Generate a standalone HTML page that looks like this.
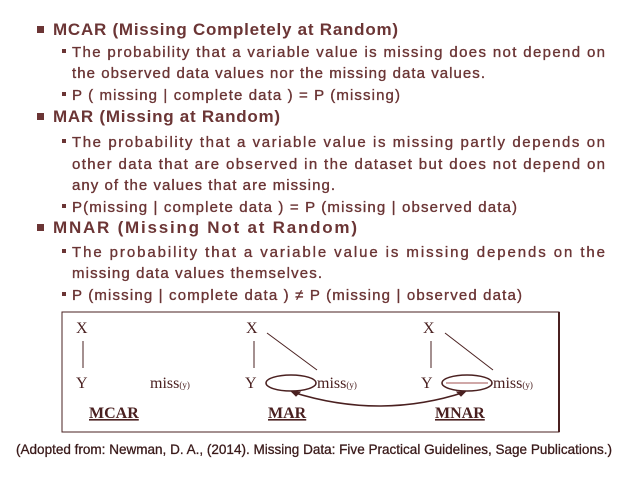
<!DOCTYPE html>
<html><head><meta charset="utf-8"><style>
html,body{margin:0;padding:0;background:#fff;}
svg{display:block;}
.h{font-family:"Liberation Sans",sans-serif;font-size:17px;fill:#6b3535;font-weight:bold;}
.s{font-family:"Liberation Sans",sans-serif;font-size:15px;fill:#6b3535;stroke:#6b3535;stroke-width:0.35;}
.d{font-family:"Liberation Serif",serif;font-size:16px;fill:#4a2020;}
</style></head><body>
<svg width="638" height="479" viewBox="0 0 638 479">
<g>
<rect x="37" y="26" width="7" height="7" fill="#6b3535"/>
<text class="h" x="53" y="35" textLength="345" lengthAdjust="spacing">MCAR (Missing Completely at Random)</text>
<rect x="62" y="49" width="4" height="4" fill="#6b3535"/>
<text class="s" x="72" y="57" textLength="533" lengthAdjust="spacing">The probability that a variable value is missing does not depend on</text>
<text class="s" x="72" y="78" textLength="413" lengthAdjust="spacing">the observed data values nor the missing data values.</text>
<rect x="62" y="92" width="4" height="4" fill="#6b3535"/>
<text class="s" x="72" y="100" textLength="328" lengthAdjust="spacing">P ( missing | complete data ) = P (missing)</text>

<rect x="37" y="113" width="7" height="7" fill="#6b3535"/>
<text class="h" x="53" y="122" textLength="227" lengthAdjust="spacing">MAR (Missing at Random)</text>
<rect x="62" y="139" width="4" height="4" fill="#6b3535"/>
<text class="s" x="72" y="147" textLength="533" lengthAdjust="spacing">The probability that a variable value is missing partly depends on</text>
<text class="s" x="72" y="169" textLength="533" lengthAdjust="spacing">other data that are observed in the dataset but does not depend on</text>
<text class="s" x="72" y="190" textLength="263" lengthAdjust="spacing">any of the values that are missing.</text>
<rect x="62" y="204" width="4" height="4" fill="#6b3535"/>
<text class="s" x="72" y="212" textLength="445" lengthAdjust="spacing">P(missing | complete data ) = P (missing | observed data)</text>

<rect x="37" y="224" width="7" height="7" fill="#6b3535"/>
<text class="h" x="53" y="233" textLength="304" lengthAdjust="spacing">MNAR (Missing Not at Random)</text>
<rect x="62" y="249" width="4" height="4" fill="#6b3535"/>
<text class="s" x="72" y="257" textLength="533" lengthAdjust="spacing">The probability that a variable value is missing depends on the</text>
<text class="s" x="72" y="278" textLength="250" lengthAdjust="spacing">missing data values themselves.</text>
<rect x="62" y="292" width="4" height="4" fill="#6b3535"/>
<text class="s" x="72" y="300" textLength="450" lengthAdjust="spacing">P (missing | complete data ) ≠ P (missing | observed data)</text>
</g>

<g stroke="#4a2020" fill="none">
<rect x="62" y="312" width="497" height="120" stroke-width="1"/>
<line x1="559" y1="312" x2="559" y2="432" stroke-width="2"/>
<line x1="83" y1="341" x2="83" y2="368"/>
<line x1="254" y1="341" x2="254" y2="368"/>
<line x1="431" y1="341" x2="431" y2="368"/>
<line x1="267" y1="333" x2="317" y2="370"/>
<line x1="445" y1="333" x2="493" y2="370"/>
<ellipse cx="291" cy="383" rx="25" ry="8" stroke-width="1.5"/>
<ellipse cx="467" cy="383" rx="25" ry="8" stroke-width="1.5"/>
<line x1="446" y1="383" x2="488" y2="383" stroke="#a05050"/>
<path d="M292 392 Q380 420 465 392" stroke-width="1.5"/>
<path d="M292 392 l8 0 l-4 4 z M465 392 l-8 0 l4 4 z" fill="#4a2020"/>
</g>
<g>
<text class="d" x="76" y="333">X</text>
<text class="d" x="246" y="333">X</text>
<text class="d" x="423" y="333">X</text>
<text class="d" x="76" y="388">Y</text>
<text class="d" x="150" y="388" font-size="14">miss<tspan font-size="9">(y)</tspan></text>
<text class="d" x="245" y="388">Y</text>
<text class="d" x="317" y="388" font-size="14">miss<tspan font-size="9">(y)</tspan></text>
<text class="d" x="421" y="388">Y</text>
<text class="d" x="493" y="388" font-size="14">miss<tspan font-size="9">(y)</tspan></text>
<text class="d" x="89" y="418" font-weight="bold" text-decoration="underline">MCAR</text>
<text class="d" x="268" y="418" font-weight="bold" text-decoration="underline">MAR</text>
<text class="d" x="435" y="418" font-weight="bold" text-decoration="underline">MNAR</text>
</g>
<text x="16" y="454" textLength="596" lengthAdjust="spacingAndGlyphs" font-family="Liberation Sans Narrow, Liberation Sans, sans-serif" font-size="14" fill="#3a1a1a" stroke="#3a1a1a" stroke-width="0.3">(Adopted from: Newman, D. A., (2014). Missing Data: Five Practical Guidelines, Sage Publications.)</text>
</svg>
</body></html>
